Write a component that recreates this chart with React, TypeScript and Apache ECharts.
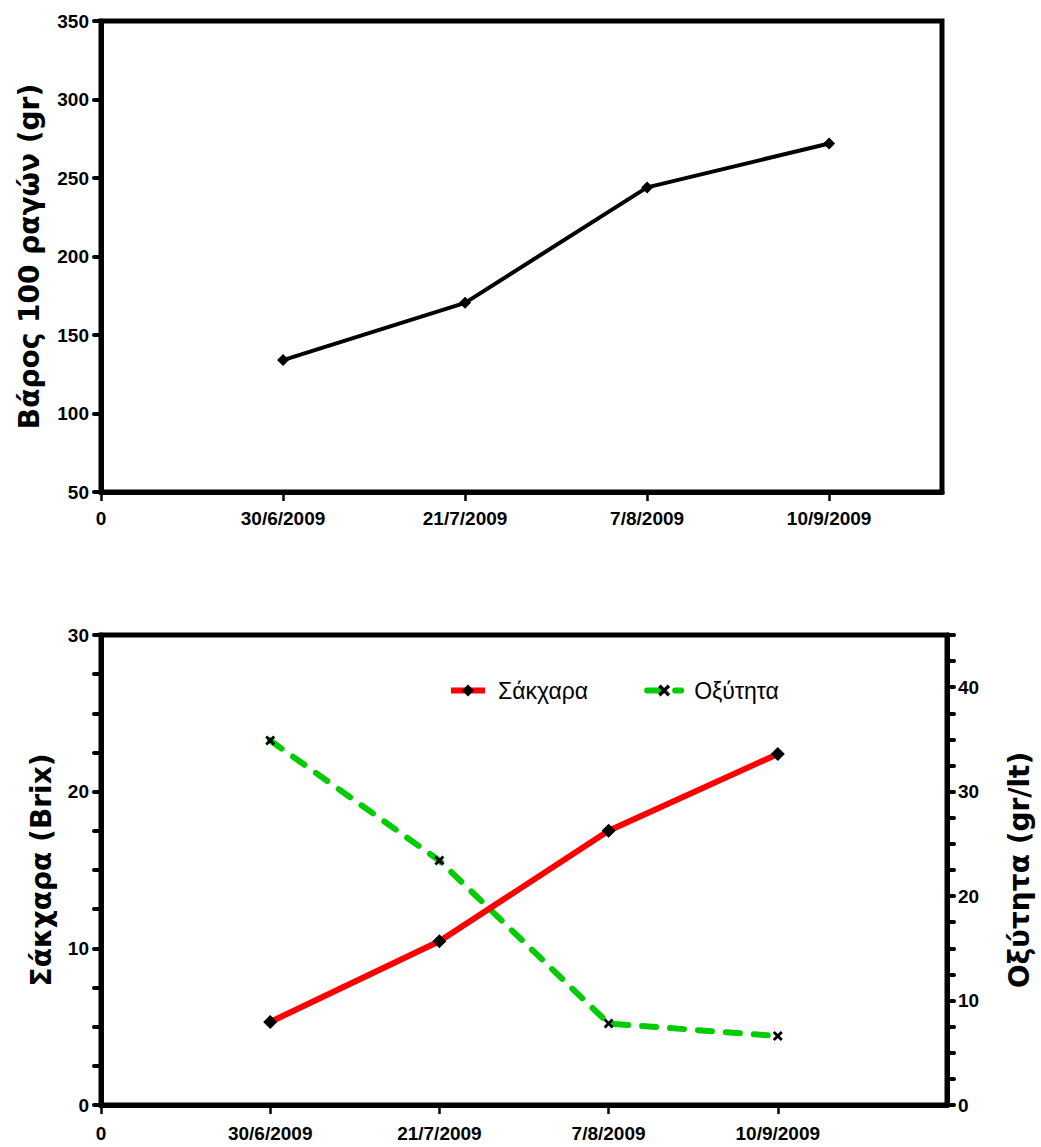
import React, { useEffect, useRef } from "react";
import * as echarts from "echarts";

const dates = ["30/6/2009", "21/7/2009", "7/8/2009", "10/9/2009"];
const weight100 = [134, 170.5, 244, 272];
const sugar = [5.3, 10.45, 17.5, 22.4];
const acidity = [34.9, 23.4, 7.8, 6.6];

const weightTicks = { min: 50, max: 350, interval: 50 };
const sugarTicks = { min: 0, max: 30, interval: 2.5, labelStep: 10 };
const acidTicks = { min: 0, max: 45, interval: 2.5, labelStep: 10 };

const FONT = "'Liberation Sans', Arial, sans-serif";
const TITLE_FONT = "'DejaVu Sans', 'Liberation Sans', sans-serif";
const LEGEND_FONT = "'Liberation Sans', Arial, sans-serif";
const X_SHAPE =
  "path://M2,0 L5,3 L8,0 L10,2 L7,5 L10,8 L8,10 L5,7 L2,10 L0,8 L3,5 L0,2 Z";

function dateLabel(v: number) {
  if (v === 0) return "0";
  if (Math.abs(v - Math.round(v)) > 1e-6) return "";
  const i = Math.round(v) - 1;
  return dates[i] ?? "";
}

export default function App() {
  const ref = useRef<HTMLDivElement>(null);
  useEffect(() => {
    if (!ref.current) return;
    const chart = echarts.init(ref.current, undefined, { renderer: "svg" });
    const axisLine = { show: true, lineStyle: { color: "#000", width: 5 } };
    const labelStyle = {
      color: "#000",
      fontFamily: FONT,
      fontWeight: "bold" as const,
      fontSize: 19,
    };
    const titleStyle = (size: number) => ({
      color: "#000",
      fontFamily: TITLE_FONT,
      fontWeight: "bold" as const,
      fontSize: size,
    });
    const xAxisCommon = (gridIndex: number, max: number, margin: number) => ({
      type: "value" as const,
      gridIndex,
      min: 0,
      max,
      interval: 1,
      axisLine,
      splitLine: { show: false },
      axisTick: {
        show: true,
        length: 9,
        lineStyle: { color: "#000", width: 2.5 },
      },
      axisLabel: {
        ...labelStyle,
        margin,
        showMaxLabel: false,
        formatter: (v: number) => dateLabel(v),
      },
    });
    const yTickStyle = {
      show: true,
      inside: false,
      length: 7,
      lineStyle: { color: "#000", width: 4, cap: "round" as const },
    };

    chart.setOption({
      animation: false,
      backgroundColor: "#fff",
      grid: [
        {
          left: 101,
          top: 21,
          width: 841,
          height: 471,
          show: true,
          borderColor: "#000",
          borderWidth: 5,
        },
        {
          left: 101,
          top: 635,
          width: 846,
          height: 470,
          show: true,
          borderColor: "#000",
          borderWidth: 5,
        },
      ],
      legend: {
        left: 443,
        top: 674,
        itemWidth: 34,
        itemHeight: 15,
        itemGap: 56,
        lineStyle: { width: 6 },
        textStyle: {
          color: "#000",
          fontFamily: LEGEND_FONT,
          fontSize: 23,
          padding: [0, 0, 0, 8],
        },
        data: ["Σάκχαρα", "Οξύτητα"],
      },
      xAxis: [xAxisCommon(0, 4.62, 17), xAxisCommon(1, 5, 19)],
      yAxis: [
        {
          type: "value",
          gridIndex: 0,
          min: weightTicks.min,
          max: weightTicks.max,
          interval: weightTicks.interval,
          axisLine,
          splitLine: { show: false },
          axisTick: yTickStyle,
          axisLabel: { ...labelStyle, margin: 12 },
          name: "Βάρος 100 ραγών (gr)",
          nameLocation: "middle",
          nameGap: 58,
          nameRotate: 90,
          nameTextStyle: titleStyle(28),
        },
        {
          type: "value",
          gridIndex: 1,
          position: "left",
          min: sugarTicks.min,
          max: sugarTicks.max,
          interval: sugarTicks.interval,
          axisLine,
          splitLine: { show: false },
          axisTick: yTickStyle,
          axisLabel: {
            ...labelStyle,
            margin: 12,
            formatter: (v: number) =>
              Math.abs(v % sugarTicks.labelStep) < 1e-6 ? String(v) : "",
          },
          name: "Σάκχαρα (Brix)",
          nameLocation: "middle",
          nameGap: 46,
          nameRotate: 90,
          nameTextStyle: titleStyle(28),
        },
        {
          type: "value",
          gridIndex: 1,
          position: "right",
          min: acidTicks.min,
          max: acidTicks.max,
          interval: acidTicks.interval,
          axisLine,
          splitLine: { show: false },
          axisTick: yTickStyle,
          axisLabel: {
            ...labelStyle,
            margin: 11,
            formatter: (v: number) =>
              Math.abs(v % acidTicks.labelStep) < 1e-6 && v < acidTicks.max
                ? String(v)
                : "",
          },
          name: "Οξύτητα (gr/lt)",
          nameLocation: "middle",
          nameGap: 58,
          nameRotate: 90,
          nameTextStyle: titleStyle(28),
        },
      ],
      series: [
        {
          name: "Βάρος",
          type: "line",
          xAxisIndex: 0,
          yAxisIndex: 0,
          data: weight100.map((v, i) => [i + 1, v]),
          symbol: "diamond",
          symbolSize: 12,
          lineStyle: { color: "#000", width: 4 },
          itemStyle: { color: "#000" },
        },
        {
          name: "Σάκχαρα",
          type: "line",
          xAxisIndex: 1,
          yAxisIndex: 1,
          data: sugar.map((v, i) => [i + 1, v]),
          symbol: "diamond",
          symbolSize: 14,
          lineStyle: { color: "#ff0000", width: 6 },
          itemStyle: { color: "#000" },
          z: 3,
        },
        {
          name: "Οξύτητα",
          type: "line",
          xAxisIndex: 1,
          yAxisIndex: 2,
          data: acidity.map((v, i) => [i + 1, v]),
          symbol: X_SHAPE,
          symbolSize: 10,
          lineStyle: {
            color: "#00cc00",
            width: 6,
            type: [14, 14],
            cap: "round",
          },
          itemStyle: { color: "#000" },
          z: 2,
        },
      ],
    });
    return () => chart.dispose();
  }, []);
  return (
    <div
      ref={ref}
      style={{ position: "fixed", left: 0, top: 0, width: 1041, height: 1147 }}
    />
  );
}
